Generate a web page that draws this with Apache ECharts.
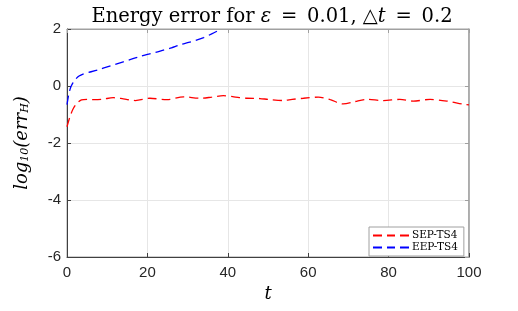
<!DOCTYPE html>
<html>
<head>
<meta charset="utf-8">
<script src="https://cdn.jsdelivr.net/npm/echarts@6/dist/echarts.min.js"></script>
<style>html,body{margin:0;padding:0;background:#fff}#c{width:518px;height:311px}</style>
</head>
<body>
<div id="c"></div>
<script>
var tSEP = [0, 0.8, 1.6, 2.5, 3.6, 5, 7, 9, 11.5, 14, 17, 20.6, 24.8, 29, 33.1, 36, 38.9, 41.5, 44.7, 48, 50, 53.8, 56, 58.8, 62.5, 65.5, 68.7, 71.5, 74.5, 78.7, 82.8, 86.1, 90.3, 94.5, 98.6, 100];
var errSEP = [-1.43, -1.05, -0.78, -0.6, -0.49, -0.47, -0.48, -0.46, -0.41, -0.45, -0.51, -0.43, -0.48, -0.38, -0.43, -0.39, -0.34, -0.38, -0.43, -0.44, -0.47, -0.51, -0.47, -0.43, -0.39, -0.48, -0.63, -0.55, -0.47, -0.51, -0.47, -0.53, -0.47, -0.53, -0.64, -0.66];
var tEEP = [0, 0.5, 1, 1.5, 2, 3, 4, 6, 8, 10, 12, 14, 16, 18, 20, 22, 24, 26, 28, 30, 32, 34, 36, 38, 38.4];
var errEEP = [-0.65, -0.25, -0.02, 0.12, 0.22, 0.35, 0.42, 0.5, 0.58, 0.67, 0.76, 0.85, 0.94, 1.03, 1.11, 1.18, 1.26, 1.34, 1.44, 1.52, 1.6, 1.7, 1.83, 1.97, 2.0];
var xTicks = [0, 20, 40, 60, 80, 100];
var yTicks = [-6, -4, -2, 0, 2];
var seriesNames = ['SEP-TS4', 'EEP-TS4'];

function pairs(xs, ys) { return xs.map(function (x, i) { return [x, ys[i]]; }); }

var chart = echarts.init(document.getElementById('c'));
var serif = 'DejaVu Serif';
var sans = 'Liberation Sans';
var axisText = '#262626';
var dashIcon = 'path://M0,0h9v2h-9z M14,0h8v2h-8z M27,0h9v2h-9z';
chart.setOption({
  animation: false,
  title: {
    text: '{r|Energy error for }{i|ε}{r|\u2002=\u20020.01, △}{i|t}{r|\u2002=\u20020.2}',
    left: 267, top: 2, textAlign: 'center',
    textStyle: {
      fontWeight: 'normal',
      rich: {
        r: { fontFamily: serif, fontSize: 19.5, fontWeight: 'normal', color: '#000' },
        i: { fontFamily: serif, fontStyle: 'italic', fontWeight: 'normal', fontSize: 19.5, color: '#000' }
      }
    }
  },
  grid: { left: 67, right: 49, top: 29, bottom: 54, show: true, borderColor: '#a0a0a0', borderWidth: 1, backgroundColor: 'transparent' },
  legend: {
    data: [{ name: seriesNames[0], icon: dashIcon }, { name: seriesNames[1], icon: dashIcon }],
    orient: 'vertical',
    left: 369, top: 227,
    itemWidth: 36, itemHeight: 2, itemGap: 1,
    padding: [3, 6, 3, 4],
    backgroundColor: '#fff',
    borderColor: '#a0a0a0', borderWidth: 1, borderRadius: 0,
    textStyle: { fontFamily: serif, fontSize: 10.5, color: '#000', padding: [0, 0, 0, -2] }
  },
  xAxis: [{
    type: 'value', min: 0, max: 100, interval: 20,
    name: 't', nameLocation: 'middle', nameGap: 28,
    nameTextStyle: { fontFamily: serif, fontStyle: 'italic', fontSize: 18, color: '#000' },
    axisLine: { show: true, onZero: false, lineStyle: { color: '#404040', width: 1 } },
    axisTick: { show: true, inside: true, length: 4, lineStyle: { color: '#404040' } },
    axisLabel: { fontFamily: sans, fontSize: 15, color: axisText, margin: 8, formatter: function (v) { return xTicks.indexOf(v) >= 0 ? String(v) : ''; } },
    splitLine: { show: true, lineStyle: { color: '#e6e6e6', width: 1 } }
  }, {
    type: 'value', min: 0, max: 100, interval: 20, position: 'top',
    axisLine: { show: true, onZero: false, lineStyle: { color: '#a0a0a0', width: 1 } },
    axisTick: { show: true, inside: true, length: 4, lineStyle: { color: '#a0a0a0' } },
    axisLabel: { show: false }, splitLine: { show: false }
  }],
  yAxis: [{
    type: 'value', min: -6, max: 2, interval: 2,
    name: '{a|log}{s|10}{a|(}{i|err}{s|H}{a|)}', nameLocation: 'middle', nameGap: 36, nameRotate: 90,
    nameTextStyle: {
      rich: {
        a: { fontFamily: serif, fontSize: 18, color: '#000', fontStyle: 'italic', lineHeight: 24, verticalAlign: 'bottom' },
        i: { fontFamily: serif, fontSize: 18, color: '#000', fontStyle: 'italic', lineHeight: 24, verticalAlign: 'bottom' },
        s: { fontFamily: serif, fontSize: 11, color: '#000', fontStyle: 'italic', lineHeight: 16, verticalAlign: 'bottom' }
      }
    },
    axisLine: { show: true, onZero: false, lineStyle: { color: '#404040', width: 1 } },
    axisTick: { show: true, inside: true, length: 4, lineStyle: { color: '#404040' } },
    axisLabel: { fontFamily: sans, fontSize: 15, color: axisText, margin: 6, formatter: function (v) { return yTicks.indexOf(v) >= 0 ? String(v) : ''; } },
    splitLine: { show: true, lineStyle: { color: '#e6e6e6', width: 1 } }
  }, {
    type: 'value', min: -6, max: 2, interval: 2, position: 'right',
    axisLine: { show: true, onZero: false, lineStyle: { color: '#a0a0a0', width: 1.5 } },
    axisTick: { show: true, inside: true, length: 4, lineStyle: { color: '#a0a0a0' } },
    axisLabel: { show: false }, splitLine: { show: false }
  }],
  series: [{
    name: seriesNames[0], type: 'line', data: pairs(tSEP, errSEP), smooth: 0.3, symbol: 'none', clip: true,
    lineStyle: { color: '#ff0000', width: 1.3, type: [9, 5] }, itemStyle: { color: '#ff0000' }, z: 3
  }, {
    name: seriesNames[1], type: 'line', data: pairs(tEEP, errEEP), smooth: 0.3, symbol: 'none', clip: true,
    lineStyle: { color: '#0000ff', width: 1.3, type: [9, 5] }, itemStyle: { color: '#0000ff' }, z: 3
  }]
});
</script>
</body>
</html>
